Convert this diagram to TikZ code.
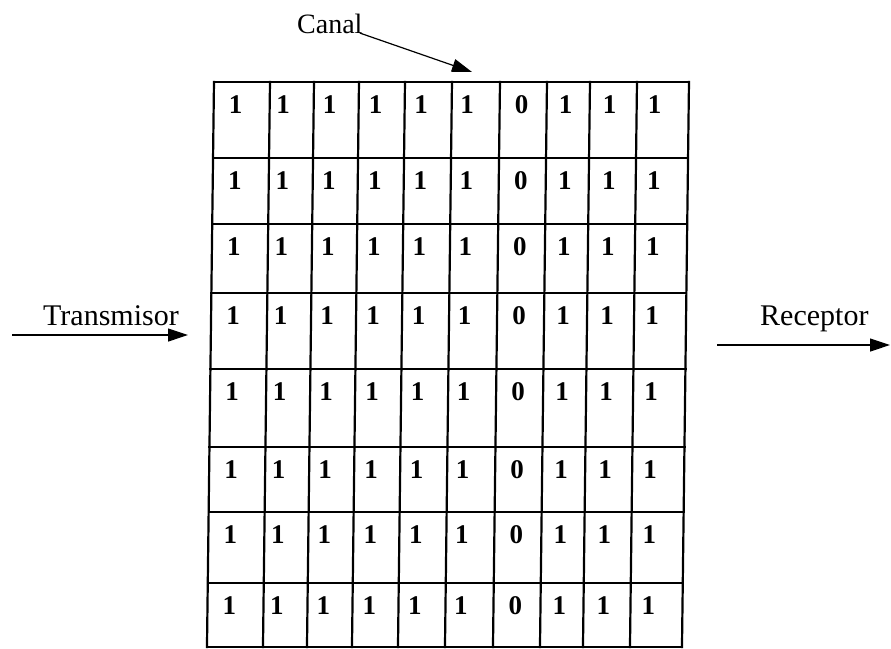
\documentclass[tikz,border=0pt]{standalone}
\usepackage{fontspec}
\setmainfont{Liberation Serif}
\usetikzlibrary{arrows.meta}
\begin{document}
\begin{tikzpicture}[x=1pt,y=-1pt,
  gridline/.style={line width=2.2pt, line cap=rect},
  bit/.style={font=\fontsize{27}{27}\selectfont\bfseries, inner sep=0pt},
  lbl/.style={font=\fontsize{30}{30}\selectfont, inner sep=0pt, anchor=base west},
  arr/.style={line width=1.2pt, -{Triangle[length=20pt,width=13pt]}}]
\useasboundingbox[fill=white] (0,0) rectangle (891,648);
\begin{scope}[xslant=0.0124]
  \foreach \x in {215,271,315,360,406,453,501,548,591,638,690}
    \draw[gridline] (\x,82) -- (\x,647);
  \foreach \y in {82,158,224,293,369,447,512,583,647}
    \draw[gridline] (215,\y) -- (690,\y);
  \foreach \r/\t in {1/82,2/158,3/224,4/293,5/369,6/447,7/512,8/583}
    \foreach \c/\xx/\v in {1/237/1,2/284.5/1,3/331/1,4/377/1,5/422.5/1,6/468.5/1,7/523/0,8/567/1,9/611/1,10/656/1}
      \node[bit] (b\r-\c) at (\xx,\t+23) {\v};
\end{scope}
\node[lbl, font=\fontsize{28}{28}\selectfont] (canal) at (297,33) {Canal};
\node[lbl] (tx) at (43,325) {Transmisor};
\node[lbl] (rx) at (760,325) {Receptor};
\coordinate (canalend) at (472,72);
\coordinate (txs) at (12,335);
\coordinate (txe) at (188,335);
\coordinate (rxs) at (717,345);
\coordinate (rxe) at (890,345);
\draw[arr] ([xshift=-3pt]canal.base east) -- (canalend);
\draw[arr] (txs) -- (txe);
\draw[arr] (rxs) -- (rxe);
\end{tikzpicture}
\end{document}
